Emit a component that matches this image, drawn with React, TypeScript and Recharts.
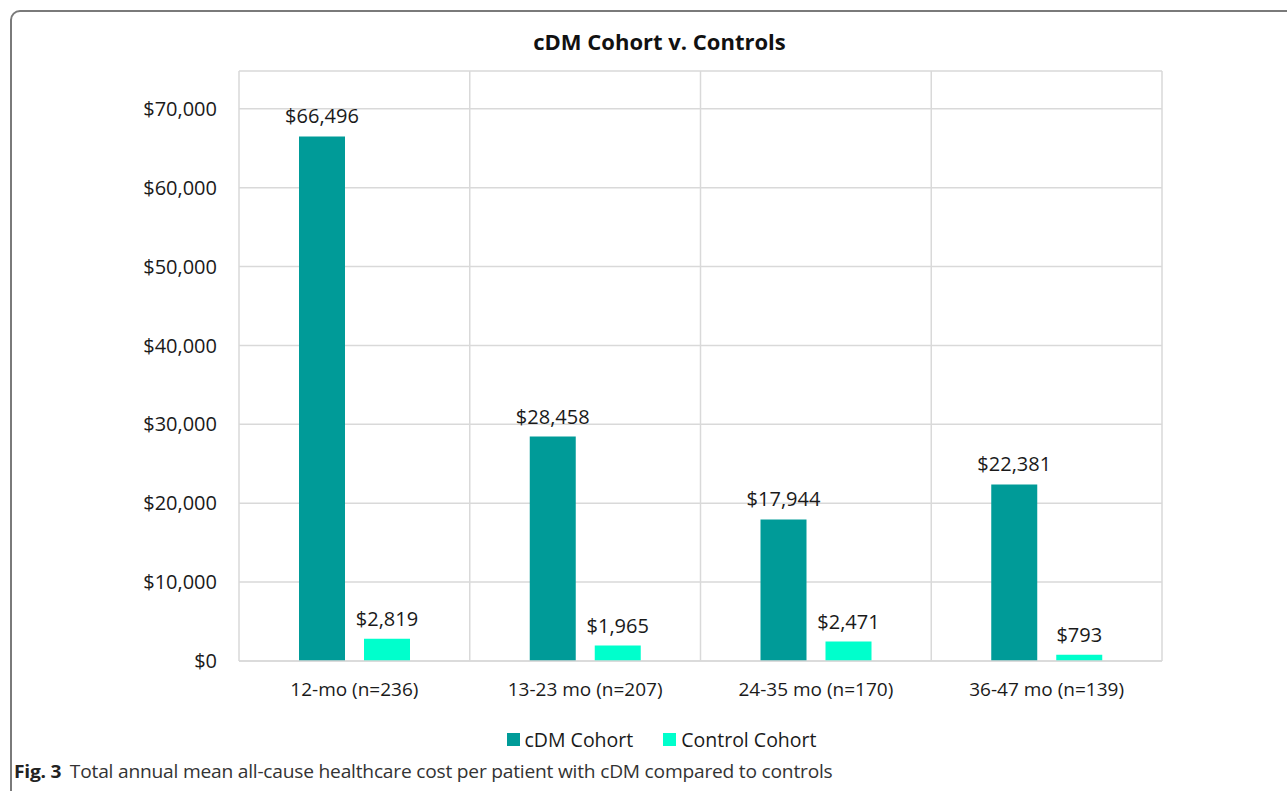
import React from "react";
import {
  BarChart,
  Bar,
  XAxis,
  YAxis,
  CartesianGrid,
  LabelList,
} from "recharts";

const periods = ["12-mo (n=236)", "13-23 mo (n=207)", "24-35 mo (n=170)", "36-47 mo (n=139)"];
const cdmCosts = [66496, 28458, 17944, 22381];
const controlCosts = [2819, 1965, 2471, 793];
const yTicks = [0, 10000, 20000, 30000, 40000, 50000, 60000, 70000];

const series = [
  { key: "cdm", name: "cDM Cohort", color: "#009B98" },
  { key: "control", name: "Control Cohort", color: "#00FFCC" },
];

const data = periods.map((p, i) => ({
  period: p,
  cdm: cdmCosts[i],
  control: controlCosts[i],
}));

const money = (v: number) => "$" + Number(v).toLocaleString("en-US");

const FONT = "'Open Sans', sans-serif";

const App: React.FC = () => {
  return (
    <div
      style={{
        position: "fixed",
        left: 0,
        top: 0,
        width: 1287,
        height: 791,
        overflow: "hidden",
        background: "#fff",
        fontFamily: FONT,
      }}
    >
      {/* figure frame, only top and left edges visible */}
      <div
        style={{
          position: "absolute",
          left: 10,
          top: 10,
          width: 1300,
          height: 820,
          border: "2px solid #7a7a7a",
          borderRadius: 10,
          boxSizing: "border-box",
        }}
      />

      <div
        style={{
          position: "absolute",
          top: 26,
          left: 32,
          width: 1255,
          textAlign: "center",
          fontSize: 22,
          fontWeight: 700,
          color: "#111",
        }}
      >
        cDM Cohort v. Controls
      </div>

      <div style={{ position: "absolute", left: 0, top: 0 }}>
        <BarChart
          width={1287}
          height={791}
          data={data}
          margin={{ top: 71, right: 125, left: 159, bottom: 100 }}
          barGap={19}
          barSize={46}
        >
          <CartesianGrid
            stroke="#d9d9d9"
            strokeWidth={1.5}
            verticalCoordinatesGenerator={({ offset }: any) =>
              [0, 1, 2, 3, 4].map((i) => offset.left + (i * offset.width) / periods.length)
            }
          />
          <XAxis
            dataKey="period"
            axisLine={{ stroke: "#d9d9d9", strokeWidth: 1.5 }}
            tickLine={false}
            tickMargin={16}
            height={30}
            tick={{ fontSize: 19, fill: "#1a1a1a", fontFamily: FONT }}
          />
          <YAxis
            width={80}
            domain={[0, 74800]}
            ticks={yTicks}
            axisLine={false}
            tickLine={false}
            tickMargin={16}
            tickFormatter={money}
            tick={{ fontSize: 20, fill: "#1a1a1a", fontFamily: FONT }}
          />
          {series.map((s) => (
            <Bar
              key={s.key}
              dataKey={s.key}
              name={s.name}
              fill={s.color}
              isAnimationActive={false}
            >
              <LabelList
                dataKey={s.key}
                position="top"
                offset={13}
                formatter={(v: any) => money(v)}
                style={{ fontSize: 20, fill: "#1a1a1a", fontFamily: FONT }}
              />
            </Bar>
          ))}
        </BarChart>
      </div>

      {/* legend */}
      <div
        style={{
          position: "absolute",
          top: 726,
          left: 36,
          width: 1251,
          display: "flex",
          justifyContent: "center",
          gap: 30,
          fontSize: 19.5,
          color: "#1a1a1a",
        }}
      >
        {series.map((s) => (
          <div key={s.key} style={{ display: "flex", alignItems: "center" }}>
            <span
              style={{
                display: "inline-block",
                width: 13,
                height: 13,
                background: s.color,
                marginRight: 5,
              }}
            />
            {s.name}
          </div>
        ))}
      </div>

      {/* caption */}
      <div
        style={{
          position: "absolute",
          top: 759,
          left: 14,
          fontFamily: FONT,
          fontSize: 18,
          color: "#333",
          whiteSpace: "nowrap",
          letterSpacing: -0.2,
          transformOrigin: "left top",
          transform: "scale(1.065, 1)",
        }}
      >
        <b style={{ color: "#222" }}>Fig. 3</b>
        <span style={{ marginLeft: 8 }}>
          Total annual mean all-cause healthcare cost per patient with cDM compared to controls
        </span>
      </div>
    </div>
  );
};

export default App;
